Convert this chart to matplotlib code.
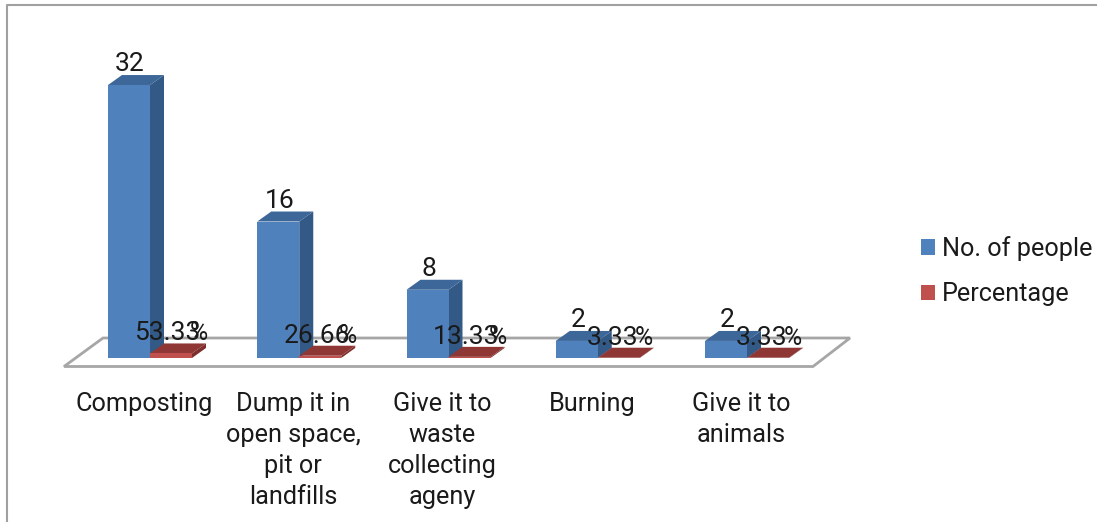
import matplotlib
matplotlib.use("Agg")
import matplotlib.pyplot as plt
from matplotlib.patches import Patch, Polygon

plt.rcParams['font.family'] = ['Roboto', 'DejaVu Sans']

categories = ['Composting', 'Dump it in\nopen space,\npit or\nlandfills',
              'Give it to\nwaste\ncollecting\nageny', 'Burning', 'Give it to\nanimals']
people = [32, 16, 8, 2, 2]
percentage = [53.33, 26.66, 13.33, 3.33, 3.33]

W, H = 1097, 522
# pixel scale of the value and category axes
px_x = 149.25
px_y = 8.53
x0 = 108
y0 = 358
bar_w = 42 / px_x
dx = 14 / px_x
dy = 10 / px_y

fig = plt.figure(figsize=(W / 100, H / 100), dpi=100)
ax = fig.add_axes([0, 0, 1, 1])
ax.set_xlim(-x0 / px_x, (W - x0) / px_x)
ax.set_ylim((y0 - H) / px_y, y0 / px_y)
ax.axis('off')


def px(xp, yp):
    return (xp - x0) / px_x, (y0 - yp) / px_y


def bar3d(x, v, front, side, top):
    ax.add_patch(Polygon([(x + bar_w, 0), (x + bar_w + dx, dy), (x + bar_w + dx, v + dy), (x + bar_w, v)],
                         fc=side, ec='none', zorder=3))
    ax.add_patch(Polygon([(x, v), (x + dx, v + dy), (x + bar_w + dx, v + dy), (x + bar_w, v)],
                         fc=top, ec='none', zorder=3))
    ax.bar(x, v, bar_w, align='edge', color=front, zorder=3)


# floor of the 3d plot
floor = [px(64, 366.5), px(813, 366.5), px(850, 338), px(103, 338)]
ax.add_patch(Polygon(floor, closed=True, fc='white', ec='#a6a6a6', lw=2, zorder=1))

for i, cat in enumerate(categories):
    bar3d(i, people[i], '#4f81bd', '#335a86', '#3d6798')
    bar3d(i + bar_w, percentage[i] / 100, '#c0504d', '#7e2f2d', '#8e3735')

    # value labels
    ax.annotate(str(people[i]), (i + bar_w / 2, people[i]), xytext=(1, 21), textcoords='offset pixels',
                ha='center', va='center', fontsize=19, color='#1a1a1a', zorder=5)
    wide = percentage[i] >= 10
    ax.annotate('%.2f' % percentage[i], (i + bar_w, percentage[i] / 100),
                xytext=(17.5 if wide else 15, 20), textcoords='offset pixels',
                ha='center', va='center', fontsize=19, color='#1a1a1a', zorder=5)
    ax.annotate('%', (i + bar_w, percentage[i] / 100),
                xytext=(49 if wide else 46, 20), textcoords='offset pixels',
                ha='center', va='center', fontsize=18, color='#1a1a1a', zorder=5)

    # category labels
    xl, yl = px(108 + 149.25 * i + 36, 392)
    ax.text(xl, yl, cat, ha='center', va='top', fontsize=18.2, color='#1a1a1a', linespacing=1.37)

handles = [Patch(fc='#4f81bd', ec='none'), Patch(fc='#c0504d', ec='none')]
leg = ax.legend(handles, ['No. of people', 'Percentage'], loc='upper left',
                bbox_to_anchor=(921 / W, 1 - 236 / H), frameon=False, fontsize=18.2,
                handlelength=0.55, handleheight=0.55, handletextpad=0.28, labelspacing=0.85,
                borderpad=0, borderaxespad=0, labelcolor='#1a1a1a')

# chart frame, top and left edges only
fx, fy = zip(px(W, 5.5), px(6.5, 5.5), px(6.5, H))
ax.plot(fx, fy, color='#a0a0a0', lw=1.5, zorder=6, clip_on=False)

fig.savefig('out.png', dpi=100)
